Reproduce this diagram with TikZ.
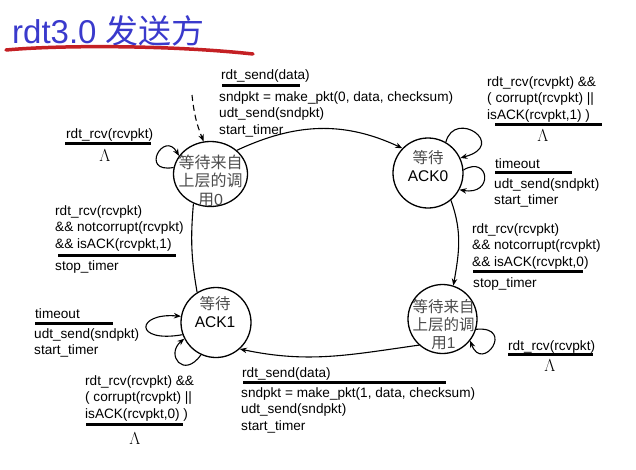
\documentclass[tikz,border=0pt]{standalone}
\usepackage{fontspec}
\setmainfont{Liberation Sans}
\newfontfamily\cjk{Noto Sans CJK SC}
\usetikzlibrary{arrows.meta,shapes.geometric}
\definecolor{titleblue}{RGB}{58,58,204}
\definecolor{penred}{RGB}{196,32,36}
\begin{document}
\begin{tikzpicture}[x=1pt,y=1pt,
  lbl/.style={font=\fontsize{13.6}{16}\selectfont, anchor=base west, inner sep=0pt},
  lam/.style={font=\fontsize{17}{18}\selectfont, anchor=base, inner sep=0pt},
  ul/.style={line width=3pt},
  statebox/.style={draw, line width=1.3pt, inner sep=0pt},
  stxt/.style={align=center, inner sep=0pt, text=black!70},
  tr/.style={line width=1.1pt, -{Stealth[length=7pt,width=5.5pt]}},
  plain/.style={line width=1.1pt},
]
\useasboundingbox (0,0) rectangle (636,-469);

% title
\node[anchor=base west, inner sep=0pt, font=\fontsize{33}{36}\selectfont, text=titleblue] (title) at (12,-43) {rdt3.0 {\cjk 发送方}};
\draw[line width=3.5pt, penred, line cap=round] (6,-50) .. controls (60,-45) and (170,-45) .. (253,-54);

% states
\node[statebox, ellipse, minimum width=74pt, minimum height=65pt] (w0) at (210.5,-174) {};
\node[statebox, circle, minimum size=70pt] (a0) at (428,-173) {};
\node[statebox, circle, minimum size=69pt] (w1) at (442.5,-319) {};
\node[statebox, circle, minimum size=70pt] (a1) at (216,-322.5) {};

\node[stxt, font=\cjk\fontsize{16}{18.5}\selectfont] (w0t) at (210.5,-180.5) {等待来自\\上层的调\\用{\rmfamily 0}};
\node[stxt, font=\fontsize{15.5}{18}\selectfont] (a0t) at (428,-166) {{\cjk 等待}\\{\color{black}ACK0}};
\node[stxt, font=\fontsize{15.5}{18}\selectfont] (a1t) at (215,-312.5) {{\cjk 等待}\\{\color{black}ACK1}};
\node[stxt, font=\cjk\fontsize{15.5}{18}\selectfont] (w1t) at (443.5,-325) {等待来自\\上层的调\\用{\rmfamily 1}};

% initial arrow
\coordinate (init) at (192,-95);
\draw[tr, dash pattern=on 6pt off 4pt] (init) to[bend right=8] (w0.102);

% transitions
\draw[tr] (w0.42) to[out=25,in=155] (a0.136);
\draw[tr] (a0.-50) to[out=-70,in=80] (w1.72);
\draw[tr] (w1.228) to[out=188,in=-12] (a1.-48);
\draw[plain] (a1.122) to[out=100,in=-95] (w0.240);

% self loops
\draw[tr] (w0.170) .. controls +(190:35pt) and +(120:30pt) .. (w0.150);
\draw[tr] (a0.60) .. controls +(75:35pt) and +(15:50pt) .. (a0.25);
\draw[tr] (a0.5) .. controls +(30:30pt) and +(-10:35pt) .. (a0.-28);
\draw[tr] (w1.-17) .. controls +(5:40pt) and +(-70:35pt) .. (w1.-38);
\draw[tr] (a1.200) .. controls +(190:50pt) and +(175:45pt) .. (a1.170);
\draw[tr] (a1.245) .. controls +(235:30pt) and +(220:25pt) .. (a1.207);

% top transition label
\node[lbl] (t1e) at (221,-79) {rdt\_send(data)};
\draw[ul] (222,-85) -- (300,-85);
\node[lbl] (t1a) at (219,-101) {sndpkt = make\_pkt(0, data, checksum)};
\node[lbl] (t1b) at (219,-117.5) {udt\_send(sndpkt)};
\node[lbl] (t1c) at (219,-134) {start\_timer};

% wait0 loop label
\node[lbl] (l0e) at (66,-138) {rdt\_rcv(rcvpkt)};
\draw[ul] (65,-143) -- (151,-143);
\node[lam] (l0a) at (105,-161) {$\Lambda$};

% left transition label
\node[lbl] (t4a) at (55,-215) {rdt\_rcv(rcvpkt)};
\node[lbl] (t4b) at (55,-231.5) {\&\& notcorrupt(rcvpkt)};
\node[lbl] (t4c) at (55,-248) {\&\& isACK(rcvpkt,1)};
\draw[ul] (58,-255) -- (176,-255);
\node[lbl] (t4d) at (55,-270) {stop\_timer};

% ack0 loop 1 label
\node[lbl] (la1) at (487,-86) {rdt\_rcv(rcvpkt) \&\&};
\node[lbl] (la2) at (487,-102.5) {( corrupt(rcvpkt) ||};
\node[lbl] (la3) at (487,-119) {isACK(rcvpkt,1) )};
\draw[ul] (495,-124) -- (602,-124);
\node[lam] (la4) at (543,-141) {$\Lambda$};

% ack0 loop 2 label
\node[lbl] (lb1) at (495,-168) {timeout};
\draw[ul] (495,-172.5) -- (572,-172.5);
\node[lbl] (lb2) at (494,-188) {udt\_send(sndpkt)};
\node[lbl] (lb3) at (494,-204) {start\_timer};

% right transition label
\node[lbl] (t2a) at (472,-233) {rdt\_rcv(rcvpkt)};
\node[lbl] (t2b) at (472,-249.5) {\&\& notcorrupt(rcvpkt)};
\node[lbl] (t2c) at (472,-266) {\&\& isACK(rcvpkt,0)};
\draw[ul] (473,-271) -- (583,-271);
\node[lbl] (t2d) at (473,-287) {stop\_timer};

% wait1 loop label
\node[lbl] (l1e) at (508,-350) {rdt\_rcv(rcvpkt)};
\draw[ul] (508,-354.5) -- (593,-354.5);
\node[lam] (l1a) at (550,-371) {$\Lambda$};

% ack1 loop labels
\node[lbl] (lc1) at (35,-318) {timeout};
\draw[ul] (35,-323) -- (113,-323);
\node[lbl] (lc2) at (34,-338) {udt\_send(sndpkt)};
\node[lbl] (lc3) at (34,-354) {start\_timer};

\node[lbl] (ld1) at (85,-385) {rdt\_rcv(rcvpkt) \&\&};
\node[lbl] (ld2) at (85,-401.5) {( corrupt(rcvpkt) ||};
\node[lbl] (ld3) at (85,-418) {isACK(rcvpkt,0) )};
\draw[ul] (86,-424) -- (183,-424);
\node[lam] (ld4) at (135,-444) {$\Lambda$};

% bottom transition label
\node[lbl] (t3e) at (242,-377) {rdt\_send(data)};
\draw[ul] (243,-382) -- (446,-382);
\node[lbl] (t3a) at (241,-397) {sndpkt = make\_pkt(1, data, checksum)};
\node[lbl] (t3b) at (241,-413) {udt\_send(sndpkt)};
\node[lbl] (t3c) at (241,-430) {start\_timer};
\end{tikzpicture}
\end{document}
